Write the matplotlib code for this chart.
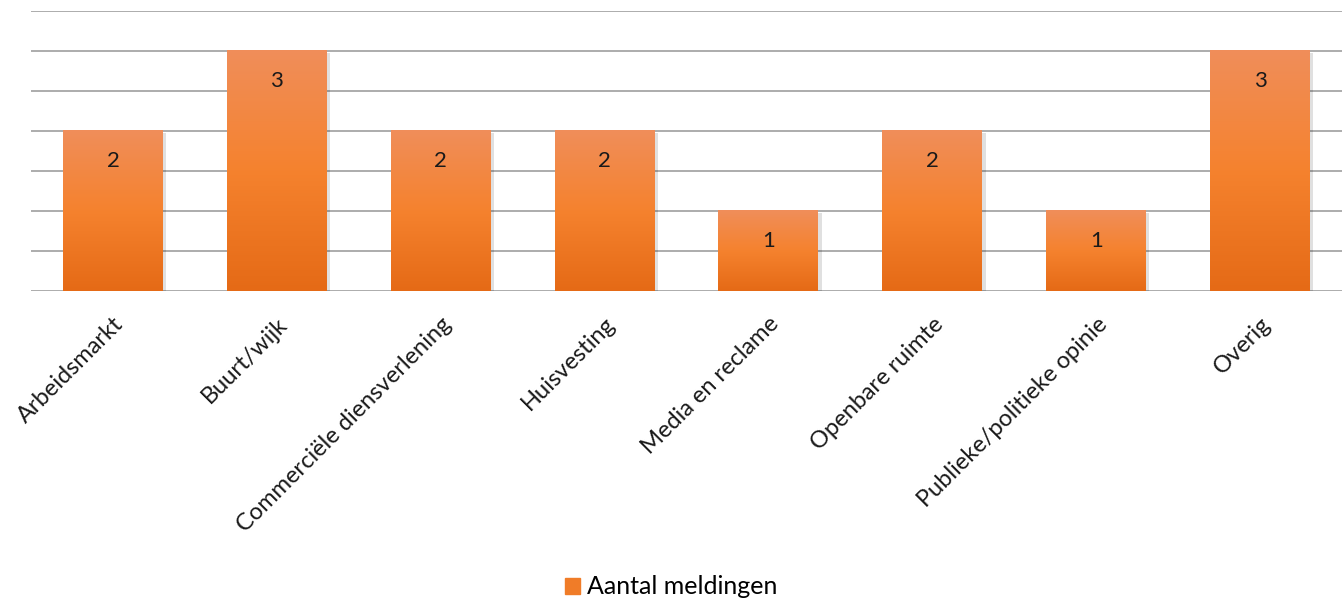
import numpy as np
import matplotlib.pyplot as plt
from matplotlib.colors import LinearSegmentedColormap
from matplotlib.patches import Rectangle

categories = ['Arbeidsmarkt', 'Buurt/wijk', 'Commerciële diensverlening', 'Huisvesting',
              'Media en reclame', 'Openbare ruimte', 'Publieke/politieke opinie', 'Overig']
values = [2, 3, 2, 2, 1, 2, 1, 3]

plt.rcParams['font.family'] = ['Lato', 'DejaVu Sans']

fig = plt.figure(figsize=(13.42, 6), dpi=100)
ax = fig.add_axes([0.0231, 0.515, 0.9769, 0.4667])

cmap = LinearSegmentedColormap.from_list('bar', ['#E56A16', '#F5822E', '#F08E5A'])
grad = np.linspace(0, 1, 256).reshape(-1, 1)
x = np.arange(len(categories))
w = 0.61

bars = ax.bar(x, values, width=w, color='none', zorder=3)
for b, v in zip(bars, values):
    x0 = b.get_x()
    # soft shadow
    ax.add_patch(Rectangle((x0 + 0.01, -0.03), w + 0.01, v, color='#000000', alpha=0.12,
                           zorder=2, lw=0))
    ax.imshow(grad, cmap=cmap, origin='lower', aspect='auto',
              extent=(x0, x0 + w, 0, v), zorder=3)
    ax.text(b.get_x() + w / 2, v - 0.38, str(v), ha='center', va='center',
            fontsize=16, color='#1a1a1a', zorder=4)

ax.set_xlim(-0.5, len(categories) - 0.5)
ax.set_ylim(0, 3.5)
ax.set_yticks(np.arange(0, 3.51, 0.5))
ax.set_yticklabels([])
ax.tick_params(axis='y', length=0)
ax.grid(axis='y', color='#A6A6A6', lw=1.3, zorder=1)
ax.set_axisbelow(True)
for s in ax.spines.values():
    s.set_visible(False)

ax.set_xticks(x)
ax.set_xticklabels(categories, rotation=45, ha='right', rotation_mode='anchor',
                   fontsize=17, color='#1a1a1a')
ax.tick_params(axis='x', length=0, pad=16)

fig.legend([Rectangle((0, 0), 1, 1, color='#F07C28')], ['Aantal meldingen'],
           loc='lower center', bbox_to_anchor=(0.5, -0.035), frameon=False,
           handlelength=0.6, handleheight=0.6, handletextpad=0.3,
           prop={'size': 18})

fig.savefig('out.png', dpi=100)
